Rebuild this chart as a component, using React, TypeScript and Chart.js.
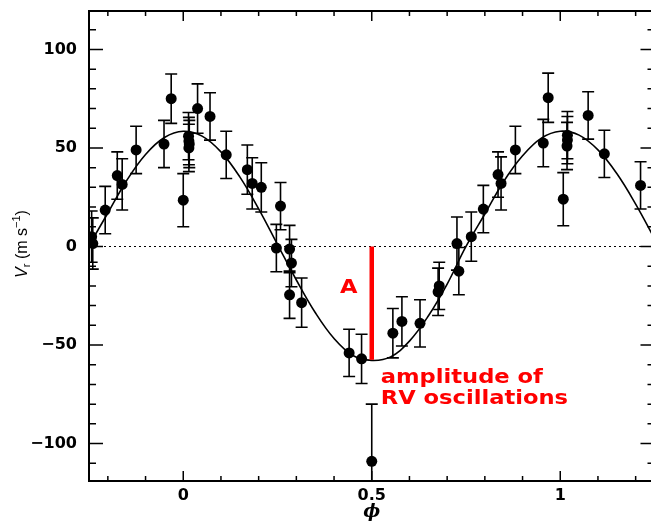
import React, { useEffect, useRef } from 'react';
import { Chart, registerables } from 'chart.js';

Chart.register(...registerables);

// ---- measured radial-velocity points (phase, velocity in m/s, error bar half-length) ----
const PHASE = [
  -0.243, -0.24, -0.207, -0.175, -0.162, -0.125, -0.051, -0.032, 0.0, 0.014, 0.015, 0.016, 0.015,
  0.038, 0.071, 0.114, 0.17, 0.183, 0.207, 0.258, 0.247, 0.282, 0.287, 0.282, 0.314, 0.44, 0.473,
  0.5, 0.556, 0.58, 0.628, 0.676, 0.679, 0.726, 0.731, 0.764, 0.796, 0.835, 0.843, 0.881, 0.955,
  0.968, 1.008, 1.019, 1.019, 1.018, 1.074, 1.117, 1.213,
];
const VELOCITY = [
  5, 1.5, 18.5, 36, 31.5, 49, 52, 75, 23.5, 56, 53.5, 52, 50,
  70, 66, 46.5, 39, 32, 30, 20.5, -0.8, -1.3, -8.4, -24.5, -28.5, -54, -57,
  -109, -44, -38, -39, -23, -20, 1.5, -12.5, 5, 19, 36.5, 32, 49, 52.5,
  75.5, 24, 56.5, 54, 51, 66.5, 47, 31,
];
const VEL_ERROR = [
  13, 13, 12, 12, 13, 12, 12, 12.5, 13.5, 12, 12, 12, 12,
  12.5, 12, 12, 12.5, 13, 12.5, 12, 12, 12, 12, 12, 12.5, 12, 12.5,
  29, 12.5, 12.5, 12, 12, 12, 13.5, 12, 12.5, 12, 11.5, 13.5, 12, 12,
  12.5, 13.5, 12, 12, 12, 12, 12, 12,
];

// ---- fitted curve ----
const CURVE_PHASE = [
  -0.25, -0.2, -0.15, -0.1, -0.05, 0, 0.05, 0.1, 0.15, 0.2, 0.25, 0.3, 0.35, 0.4, 0.45, 0.5,
  0.55, 0.6, 0.65, 0.7, 0.75, 0.8, 0.85, 0.9, 0.95, 1.0, 1.05, 1.1, 1.15, 1.2, 1.25,
];
const CURVE_VELOCITY = [
  0.5, 17, 33.5, 46.7, 55.3, 58.5, 56, 48, 35.3, 19.1, 1, -17, -33.5, -46.7, -55.3, -57.8,
  -56, -48, -35.3, -19.1, 0, 16.5, 33, 46, 55, 58.5, 56.5, 49, 37, 21.5, 4,
];

// ---- axes ----
const X_RANGE = [-0.25, 1.25];
const Y_RANGE = [-119, 119.5];
const X_MAJOR_TICKS = [0, 0.5, 1];
const X_MINOR_TICKS = [-0.2, -0.1, 0.1, 0.2, 0.3, 0.4, 0.6, 0.7, 0.8, 0.9, 1.1, 1.2];
const Y_MAJOR_TICKS = [-100, -50, 0, 50, 100];
const Y_MINOR_TICKS = [-110, -90, -80, -70, -60, -40, -30, -20, -10, 10, 20, 30, 40, 60, 70, 80, 90, 110];
const ZERO_LEVEL = 0;
const X_TITLE = '\u03D5';

// ---- amplitude annotation ----
const AMP_PHASE = 0.5;
const AMP_FROM = 0;
const AMP_TO = -57.5;
const AMP_LETTER = 'A';
const AMP_TEXT = ['amplitude of', 'RV oscillations'];

const RED = '#ff0000';

const decorPlugin = {
  id: 'decor',
  beforeDatasetsDraw(chart: any) {
    const { ctx, chartArea: a, scales } = chart;
    const x = scales.x;
    const y = scales.y;
    ctx.save();
    ctx.strokeStyle = '#000';
    ctx.lineWidth = 1.2;
    ctx.setLineDash([2, 3]);
    const y0 = y.getPixelForValue(ZERO_LEVEL);
    ctx.beginPath();
    ctx.moveTo(a.left, y0);
    ctx.lineTo(a.right, y0);
    ctx.stroke();
    ctx.restore();

    ctx.save();
    ctx.beginPath();
    ctx.rect(a.left, a.top, a.right - a.left, a.bottom - a.top);
    ctx.clip();
    ctx.strokeStyle = '#000';
    ctx.lineWidth = 1.6;
    const cap = 6;
    for (let i = 0; i < PHASE.length; i++) {
      const px = x.getPixelForValue(PHASE[i]);
      const hi = y.getPixelForValue(VELOCITY[i] + VEL_ERROR[i]);
      const lo = y.getPixelForValue(VELOCITY[i] - VEL_ERROR[i]);
      ctx.beginPath();
      ctx.moveTo(px, hi);
      ctx.lineTo(px, lo);
      ctx.moveTo(px - cap, hi);
      ctx.lineTo(px + cap, hi);
      ctx.moveTo(px - cap, lo);
      ctx.lineTo(px + cap, lo);
      ctx.stroke();
    }
    ctx.restore();
  },
  afterDatasetsDraw(chart: any) {
    const { ctx, chartArea: a, scales } = chart;
    const x = scales.x;
    const y = scales.y;
    ctx.save();
    ctx.strokeStyle = '#000';
    ctx.lineWidth = 2;
    ctx.strokeRect(a.left, a.top, a.right - a.left, a.bottom - a.top);
    ctx.lineWidth = 1.5;
    ctx.beginPath();
    const xt = (list: number[], len: number) => {
      for (const v of list) {
        const px = x.getPixelForValue(v);
        ctx.moveTo(px, a.bottom);
        ctx.lineTo(px, a.bottom - len);
        ctx.moveTo(px, a.top);
        ctx.lineTo(px, a.top + len);
      }
    };
    const yt = (list: number[], len: number) => {
      for (const v of list) {
        const py = y.getPixelForValue(v);
        ctx.moveTo(a.left, py);
        ctx.lineTo(a.left + len, py);
        ctx.moveTo(a.right, py);
        ctx.lineTo(a.right - len, py);
      }
    };
    xt(X_MAJOR_TICKS, 10);
    xt(X_MINOR_TICKS, 5);
    yt(Y_MAJOR_TICKS, 14);
    yt(Y_MINOR_TICKS, 7);
    ctx.stroke();

    const lx = x.getPixelForValue(AMP_PHASE);
    const ltop = y.getPixelForValue(AMP_FROM);
    const lbot = y.getPixelForValue(AMP_TO);
    ctx.strokeStyle = RED;
    ctx.lineWidth = 4.5;
    ctx.beginPath();
    ctx.moveTo(lx, ltop);
    ctx.lineTo(lx, lbot);
    ctx.stroke();

    ctx.fillStyle = RED;
    ctx.font = 'bold 19px "DejaVu Sans"';
    ctx.textBaseline = 'alphabetic';
    const sx = 1.19;
    const drawStretched = (t: string, left: number, base: number, align: 'left' | 'center') => {
      ctx.save();
      const w = ctx.measureText(t).width * sx;
      const startX = align === 'center' ? left - w / 2 : left;
      ctx.translate(startX, base);
      ctx.scale(sx, 1);
      ctx.textAlign = 'left';
      ctx.fillText(t, 0, 0);
      ctx.restore();
    };
    drawStretched(AMP_LETTER, lx - 23, ltop + 47, 'center');
    drawStretched(AMP_TEXT[0], lx + 9, lbot + 23, 'left');
    drawStretched(AMP_TEXT[1], lx + 9, lbot + 44, 'left');
    ctx.restore();
  },
  afterDraw(chart: any) {
    const { ctx, chartArea: a, scales } = chart;
    const x = scales.x;
    ctx.save();
    ctx.fillStyle = '#000';
    ctx.font = 'bold italic 18px "DejaVu Serif"';
    ctx.textAlign = 'center';
    ctx.textBaseline = 'alphabetic';
    ctx.fillText(X_TITLE, x.getPixelForValue(AMP_PHASE), 517);

    const parts = [
      { t: 'V', f: 'italic 16px "Liberation Sans"', dy: 0 },
      { t: 'r', f: '11px "Liberation Sans"', dy: 3 },
      { t: ' (m s', f: '16px "Liberation Sans"', dy: 0 },
      { t: '\u22121', f: '11px "Liberation Sans"', dy: -7 },
      { t: ')', f: '16px "Liberation Sans"', dy: 0 },
    ];
    let total = 0;
    const widths: number[] = [];
    for (const p of parts) {
      ctx.font = p.f;
      const w = ctx.measureText(p.t).width;
      widths.push(w);
      total += w;
    }
    ctx.translate(27, (a.top + a.bottom) / 2 - 2);
    ctx.rotate(-Math.PI / 2);
    ctx.textAlign = 'left';
    let cx = -total / 2;
    parts.forEach((p, i) => {
      ctx.font = p.f;
      ctx.fillText(p.t, cx, p.dy);
      cx += widths[i];
    });
    ctx.restore();
  },
};

export default function App() {
  const ref = useRef<HTMLCanvasElement>(null);
  useEffect(() => {
    const canvas = ref.current;
    if (!canvas) return;
    const tickFont = { family: '"DejaVu Sans"', size: 16, weight: 'bold' as const };
    const chart = new Chart(canvas, {
      type: 'scatter',
      data: {
        datasets: [
          {
            data: CURVE_PHASE.map((p, i) => ({ x: p, y: CURVE_VELOCITY[i] })),
            showLine: true,
            pointRadius: 0,
            borderColor: '#000',
            borderWidth: 1.6,
            tension: 0.4,
            order: 2,
          } as any,
          {
            data: PHASE.map((p, i) => ({ x: p, y: VELOCITY[i] })),
            showLine: false,
            pointRadius: 5.5,
            pointBackgroundColor: '#000',
            pointBorderWidth: 0,
            borderColor: '#000',
            order: 1,
          } as any,
        ],
      },
      options: {
        responsive: false,
        animation: false,
        devicePixelRatio: 1,
        events: [],
        layout: { padding: { left: 0, top: 11, right: 5, bottom: 0 } },
        plugins: { legend: { display: false }, tooltip: { enabled: false } },
        scales: {
          x: {
            type: 'linear',
            position: 'bottom',
            min: X_RANGE[0],
            max: X_RANGE[1],
            afterBuildTicks: (s: any) => {
              s.ticks = X_MAJOR_TICKS.map((v) => ({ value: v }));
            },
            afterFit: (s: any) => {
              s.height = 44;
              s.paddingLeft = 0;
              s.paddingRight = 0;
            },
            ticks: {
              callback: (v: any) => String(v),
              font: tickFont,
              color: '#000',
              padding: 5,
              maxRotation: 0,
              autoSkip: false,
            },
            grid: { display: false, drawTicks: false },
            border: { display: false },
          },
          y: {
            type: 'linear',
            min: Y_RANGE[0],
            max: Y_RANGE[1],
            afterBuildTicks: (s: any) => {
              s.ticks = Y_MAJOR_TICKS.map((v) => ({ value: v }));
            },
            afterFit: (s: any) => {
              s.width = 89;
              s.paddingTop = 0;
              s.paddingBottom = 0;
            },
            ticks: {
              callback: (v: any) => (v < 0 ? '\u2212' + Math.abs(v) : String(v)),
              font: tickFont,
              color: '#000',
              padding: 12,
              autoSkip: false,
            },
            grid: { display: false, drawTicks: false },
            border: { display: false },
          },
        },
      } as any,
      plugins: [decorPlugin],
    });
    return () => chart.destroy();
  }, []);

  return (
    <div
      style={{
        position: 'absolute',
        left: 0,
        top: 0,
        width: 651,
        height: 525,
        overflow: 'hidden',
        background: '#fff',
      }}
    >
      <canvas ref={ref} width={660} height={525} style={{ width: 660, height: 525, display: 'block' }} />
    </div>
  );
}
